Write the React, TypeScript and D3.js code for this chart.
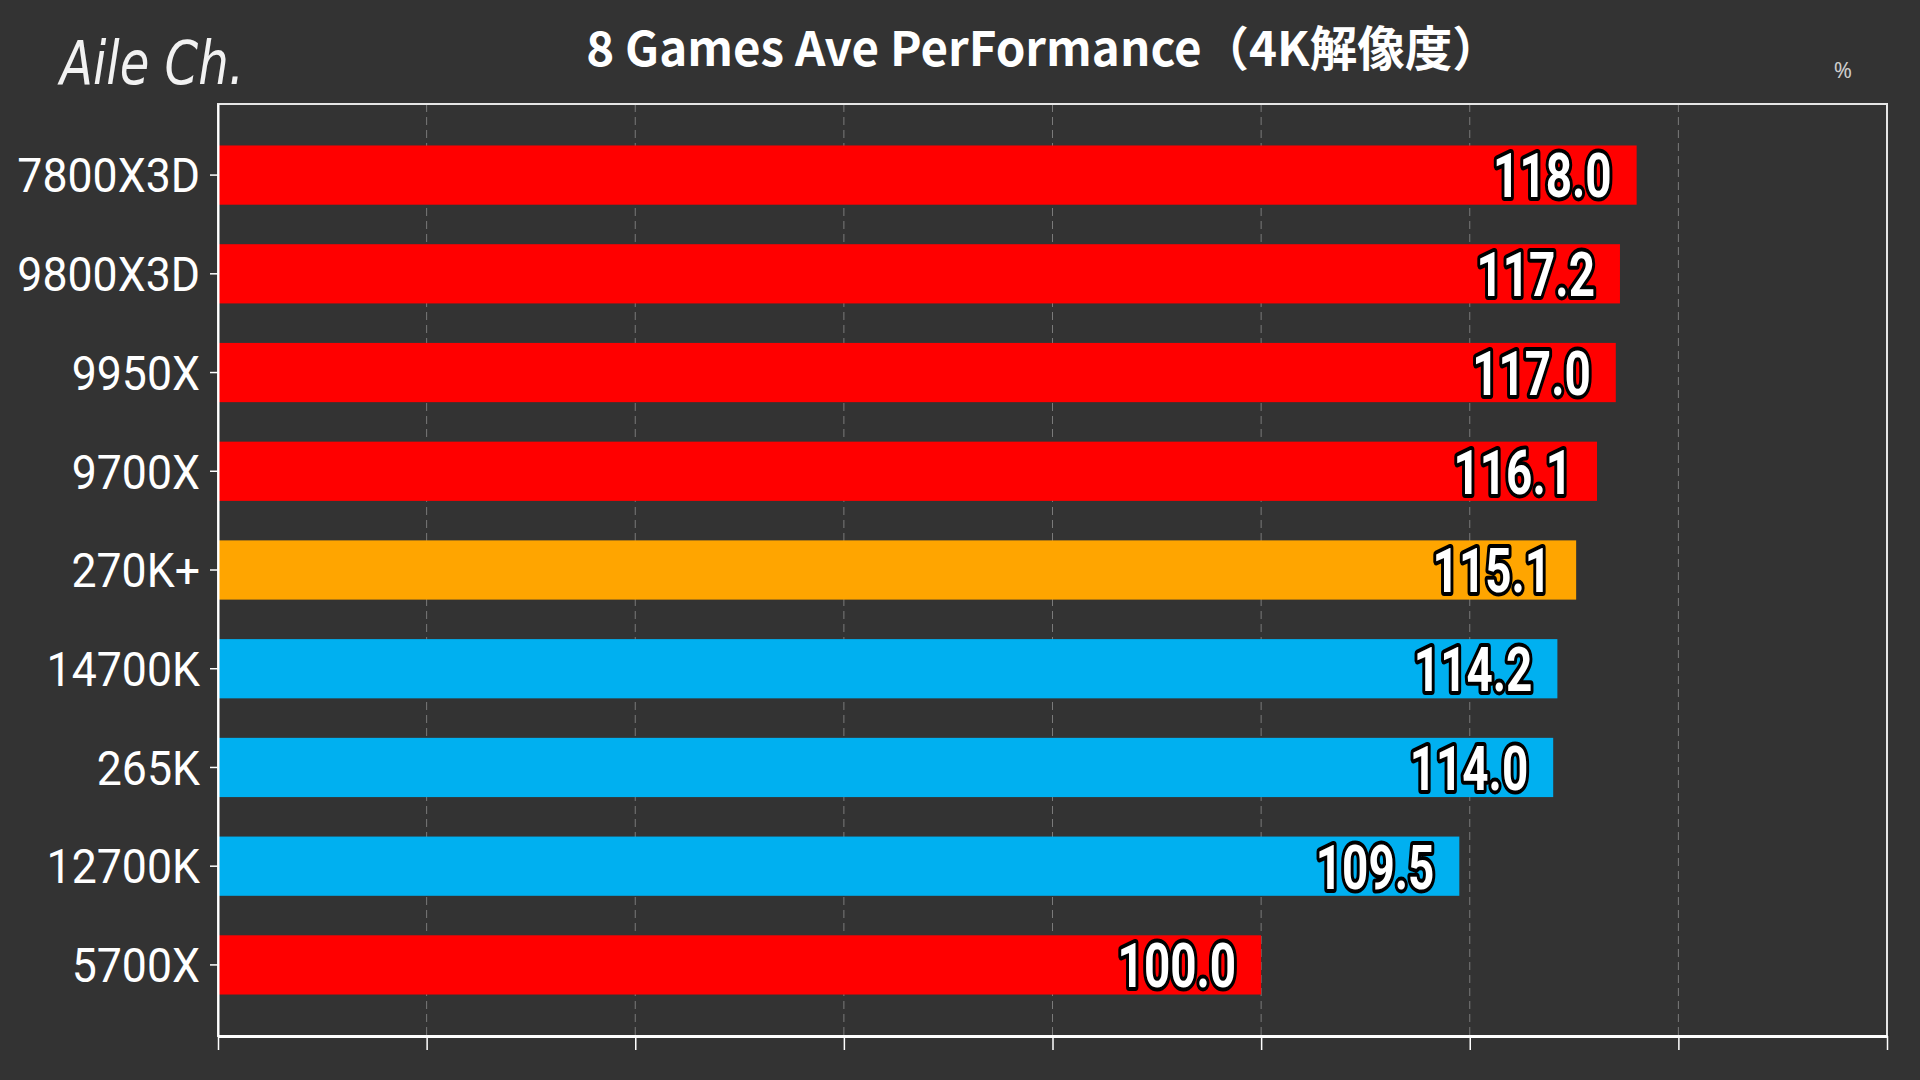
import { useEffect, useRef } from 'react';
import * as d3 from 'd3';

const BG = '#333333';
const INK = '#ffffff';
const GRID = '#7a7a7a';

const CPUS = ['7800X3D', '9800X3D', '9950X', '9700X', '270K+', '14700K', '265K', '12700K', '5700X'];
const SCORES = [118.0, 117.2, 117.0, 116.1, 115.1, 114.2, 114.0, 109.5, 100.0];
const BRANDS = ['amd', 'amd', 'amd', 'amd', 'plus', 'intel', 'intel', 'intel', 'amd'];
const X_DOMAIN = [50, 130];
const X_TICKS = [50, 60, 70, 80, 90, 100, 110, 120, 130];

const BRAND_COLOR: Record<string, string> = {
  amd: '#ff0000',
  plus: '#ffa500',
  intel: '#00b0f0',
};

const TITLE = '8 Games Ave PerFormance（4K解像度）';

export default function App() {
  const ref = useRef<SVGSVGElement>(null);

  useEffect(() => {
    const svg = d3.select(ref.current);
    if (!svg.node()) return;
    svg.selectAll('*').remove();

    const width = 1920;
    const height = 1080;
    const margin = { top: 104, right: 33, bottom: 44, left: 218 };

    const x = d3
      .scaleLinear()
      .domain(X_DOMAIN)
      .range([margin.left, width - margin.right]);
    const y = d3
      .scaleBand()
      .domain(CPUS)
      .range([margin.top, height - margin.bottom])
      .paddingInner(0.4)
      .paddingOuter(0.42);

    svg.append('rect').attr('width', width).attr('height', height).attr('fill', BG);

    // gridlines
    svg
      .append('g')
      .selectAll('line')
      .data(X_TICKS.slice(1, -1))
      .join('line')
      .attr('x1', (d) => x(d))
      .attr('x2', (d) => x(d))
      .attr('y1', margin.top)
      .attr('y2', height - margin.bottom)
      .attr('stroke', GRID)
      .attr('stroke-width', 1)
      .attr('stroke-dasharray', '8 5');

    // bars
    svg
      .append('g')
      .selectAll('rect')
      .data(CPUS)
      .join('rect')
      .attr('x', x(X_DOMAIN[0]))
      .attr('y', (d) => y(d)!)
      .attr('width', (_, i) => x(SCORES[i]) - x(X_DOMAIN[0]))
      .attr('height', y.bandwidth())
      .attr('fill', (_, i) => BRAND_COLOR[BRANDS[i]]);

    // frame
    svg
      .append('rect')
      .attr('x', margin.left)
      .attr('y', margin.top)
      .attr('width', width - margin.left - margin.right)
      .attr('height', height - margin.top - margin.bottom)
      .attr('fill', 'none')
      .attr('stroke', '#e6e6e6')
      .attr('stroke-width', 2);

    // bottom axis
    svg
      .append('g')
      .attr('transform', `translate(0,${height - margin.bottom})`)
      .call(
        d3.axisBottom(x).tickValues(X_TICKS).tickSize(14).tickSizeOuter(0).tickFormat(() => ''),
      )
      .call((sel) => sel.select('.domain').attr('stroke', INK).attr('stroke-width', 3))
      .call((sel) => sel.selectAll('.tick line').attr('stroke', INK).attr('stroke-width', 1.5));

    // left axis
    svg
      .append('g')
      .attr('transform', `translate(${margin.left},0)`)
      .call(d3.axisLeft(y).tickSize(8).tickSizeOuter(0).tickPadding(10))
      .call((sel) => sel.select('.domain').attr('stroke', INK).attr('stroke-width', 2))
      .call((sel) => sel.selectAll('.tick line').attr('stroke', INK).attr('stroke-width', 1.5))
      .call((sel) =>
        sel
          .selectAll<SVGTextElement, string>('.tick text')
          .attr('fill', INK)
          .attr('font-family', 'Roboto, sans-serif')
          .attr('font-size', 48)
          .attr('dy', '0.36em')
          .attr('transform', function () {
            const tx = +(this.getAttribute('x') ?? 0);
            return `translate(${tx * 0.07},0) scale(0.93,1)`;
          }),
      );

    // value labels
    svg
      .append('g')
      .selectAll('text')
      .data(CPUS)
      .join('text')
      .attr('transform', (d, i) => `translate(${x(SCORES[i]) - 25},${y(d)! + y.bandwidth() / 2}) scale(0.74,1)`)
      .attr('text-anchor', 'end')
      .attr('dy', '0.36em')
      .attr('font-family', 'Roboto, sans-serif')
      .attr('font-weight', 700)
      .attr('font-size', 62)
      .attr('fill', INK)
      .attr('stroke', '#000000')
      .attr('stroke-width', 8)
      .attr('stroke-linejoin', 'round')
      .attr('paint-order', 'stroke')
      .text((_, i) => SCORES[i].toFixed(1));

    // title
    svg
      .append('text')
      .attr('x', 1043)
      .attr('y', 66)
      .attr('text-anchor', 'middle')
      .attr('font-family', '"Noto Sans CJK JP", "Noto Sans", sans-serif')
      .attr('font-weight', 700)
      .attr('font-size', 47.5)
      .attr('fill', INK)
      .text(TITLE);

    // unit
    svg
      .append('text')
      .attr('x', 1843)
      .attr('y', 78)
      .attr('text-anchor', 'middle')
      .attr('font-family', '"Noto Sans", sans-serif')
      .attr('font-size', 22)
      .attr('fill', '#cccccc')
      .text('%');

    // channel signature
    svg
      .append('text')
      .attr('transform', 'translate(60,84) scale(0.83,1.05)')
      .attr('font-family', '"DejaVu Sans", sans-serif')
      .attr('font-weight', 200)
      .attr('font-style', 'italic')
      .attr('font-size', 58)
      .attr('fill', '#f2f2f2')
      .text('Aile Ch.');
  }, []);

  return (
    <svg
      ref={ref}
      width={1920}
      height={1080}
      style={{ position: 'fixed', left: 0, top: 0, display: 'block' }}
    />
  );
}
